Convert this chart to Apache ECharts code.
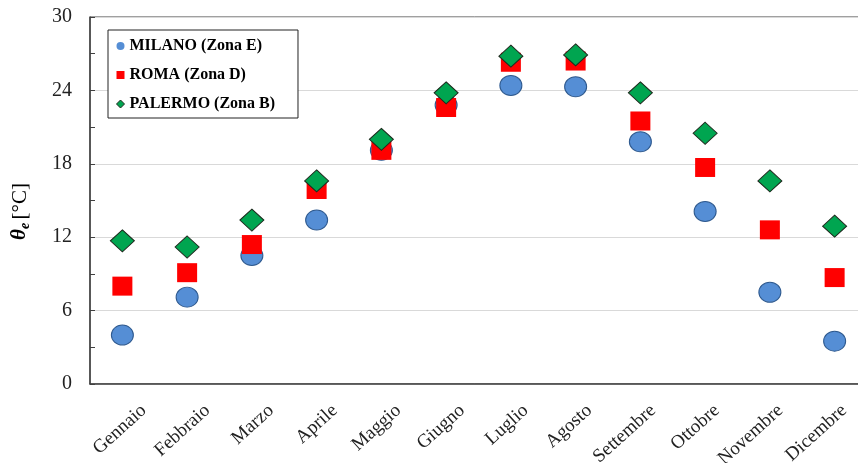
<!DOCTYPE html>
<html><head><meta charset="utf-8">
<script src="https://cdn.jsdelivr.net/npm/echarts@6/dist/echarts.min.js"></script>
<style>html,body{margin:0;padding:0;background:#fff}#c{width:858px;height:463px}</style>
</head><body><div id="c"></div>
<script>
const months = ['Gennaio','Febbraio','Marzo','Aprile','Maggio','Giugno','Luglio','Agosto','Settembre','Ottobre','Novembre','Dicembre'];
const milano = [4.0, 7.1, 10.5, 13.4, 19.1, 22.8, 24.4, 24.3, 19.8, 14.1, 7.5, 3.5];
const roma = [8.0, 9.1, 11.4, 15.9, 19.1, 22.6, 26.3, 26.4, 21.5, 17.7, 12.6, 8.7];
const palermo = [11.7, 11.2, 13.4, 16.6, 20.0, 23.8, 26.8, 26.9, 23.8, 20.5, 16.6, 12.9];
const seriesNames = ['MILANO (Zona E)', 'ROMA (Zona D)', 'PALERMO (Zona B)'];

const font = 'Liberation Serif, Times New Roman, serif';
const chart = echarts.init(document.getElementById('c'));
chart.setOption({
  animation: false,
  grid: [
    { left: 90, top: 17, width: 777, height: 367, show: true, borderColor: '#404040', borderWidth: 1, outerBoundsMode: 'none', containLabel: false },
    { left: 112, top: 17, width: 764, height: 367, show: false, outerBoundsMode: 'none', containLabel: false }
  ],
  legend: {
    orient: 'vertical', left: 108, top: 30,
    borderColor: '#222', borderWidth: 1, backgroundColor: '#fff',
    padding: [8, 23, 6, 8], itemGap: 13, itemWidth: 8, itemHeight: 8,
    textStyle: { fontFamily: font, fontWeight: 'bold', fontSize: 16, color: '#000' },
    data: [
      { name: seriesNames[0], icon: 'circle', itemStyle: { borderWidth: 0 } },
      { name: seriesNames[1], icon: 'rect', itemStyle: { borderWidth: 0 } },
      { name: seriesNames[2], icon: 'diamond', itemStyle: { borderWidth: 1 } }
    ]
  },
  xAxis: [
    {
      type: 'category', data: months, boundaryGap: true, gridIndex: 0,
      axisLine: { lineStyle: { color: '#404040', width: 1.5 } },
      axisTick: { show: false },
      axisLabel: { show: false },
      splitLine: { show: false }
    },
    {
      type: 'category', data: months, boundaryGap: true, gridIndex: 1,
      axisLine: { show: false }, axisTick: { show: false },
      axisLabel: { rotate: 42, interval: 0, fontFamily: font, fontSize: 19, color: '#222', margin: 24 },
      splitLine: { show: false }
    }
  ],
  yAxis: [
    {
      type: 'value', min: 0, max: 30, interval: 6, gridIndex: 0,
      name: '{t|θ}{s|e} {n|[°C]}', nameLocation: 'middle', nameGap: 58, nameRotate: 90,
      nameTextStyle: {
        padding: [0, 22, 0, 0],
        rich: {
          t: { fontFamily: font, fontSize: 21, fontWeight: 'bold', fontStyle: 'italic', color: '#000' },
          s: { fontFamily: font, fontSize: 14, fontWeight: 'bold', fontStyle: 'italic', color: '#000', verticalAlign: 'bottom', padding: [10, 0, 0, 0] },
          n: { fontFamily: font, fontSize: 21, color: '#000' }
        }
      },
      axisLine: { show: true, lineStyle: { color: '#404040', width: 1.5 } },
      axisTick: { show: true, inside: true, length: 5, lineStyle: { color: '#404040' } },
      minorTick: { show: true, splitNumber: 2, length: 5, lineStyle: { color: '#404040' } },
      axisLabel: { fontFamily: font, fontSize: 20, color: '#222', margin: 18 },
      splitLine: { show: true, lineStyle: { color: '#d9d9d9', width: 1.2 } }
    },
    {
      type: 'value', min: 0, max: 30, gridIndex: 1, show: false
    }
  ],
  series: [
    { name: seriesNames[0], type: 'scatter', data: milano, symbol: 'circle', symbolSize: [22, 20],
      itemStyle: { color: '#558ed5', borderColor: '#2f5a8f', borderWidth: 1, opacity: 1 } },
    { name: seriesNames[1], type: 'scatter', data: roma, symbol: 'rect', symbolSize: [20, 19],
      itemStyle: { color: '#ff0000', borderColor: '#ff0000', borderWidth: 0, opacity: 1 } },
    { name: seriesNames[2], type: 'scatter', data: palermo, symbol: 'diamond', symbolSize: [24, 22],
      itemStyle: { color: '#00a550', borderColor: '#1e2a1e', borderWidth: 1, opacity: 1 } }
  ]
});
</script></body></html>
